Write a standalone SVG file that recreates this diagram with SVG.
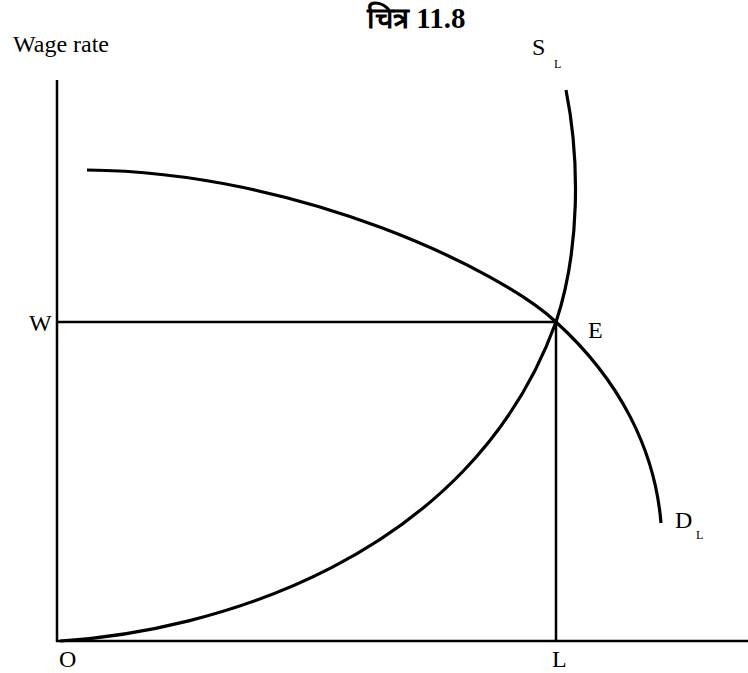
<svg xmlns="http://www.w3.org/2000/svg" width="748" height="673" viewBox="0 0 748 673">
<style>
.ln{stroke:#000;stroke-width:2.5;fill:none}
.cv{stroke:#000;stroke-width:3.2;fill:none}
.t{font-family:"Liberation Serif","Times New Roman",serif;fill:#000;font-size:24px}
.s{font-size:12px}
</style>
<rect width="748" height="673" fill="#fff"/>
<g id="connectors">
<line class="ln" x1="57" y1="80" x2="57" y2="642"/>
<line class="ln" x1="56" y1="641" x2="748" y2="641"/>
<line class="ln" x1="57" y1="322" x2="556" y2="322"/>
<line class="ln" x1="556" y1="322" x2="556" y2="641"/>
<path id="supply" class="cv" d="M60 641 C210 632 470 560 556 322 C580 250 580 160 566 90"/>
<path id="demand" class="cv" d="M87 170 C300 172 500 270 556 322 C620 380 655 450 661 523"/>
</g>
<g id="labels">
<text class="t" x="367" y="28" style="font-size:29px" font-weight="bold">चित्र <tspan font-family="'Liberation Serif',serif">11.8</tspan></text>
<text class="t" x="13" y="52">Wage rate</text>
<text class="t" x="532" y="55">S</text>
<text class="t s" x="554" y="68">L</text>
<text class="t" x="29" y="331">W</text>
<text class="t" x="588" y="338">E</text>
<text class="t" x="675" y="528">D</text>
<text class="t s" x="696" y="539">L</text>
<text class="t" x="59" y="667">O</text>
<text class="t" x="552" y="667">L</text>
</g>
</svg>
